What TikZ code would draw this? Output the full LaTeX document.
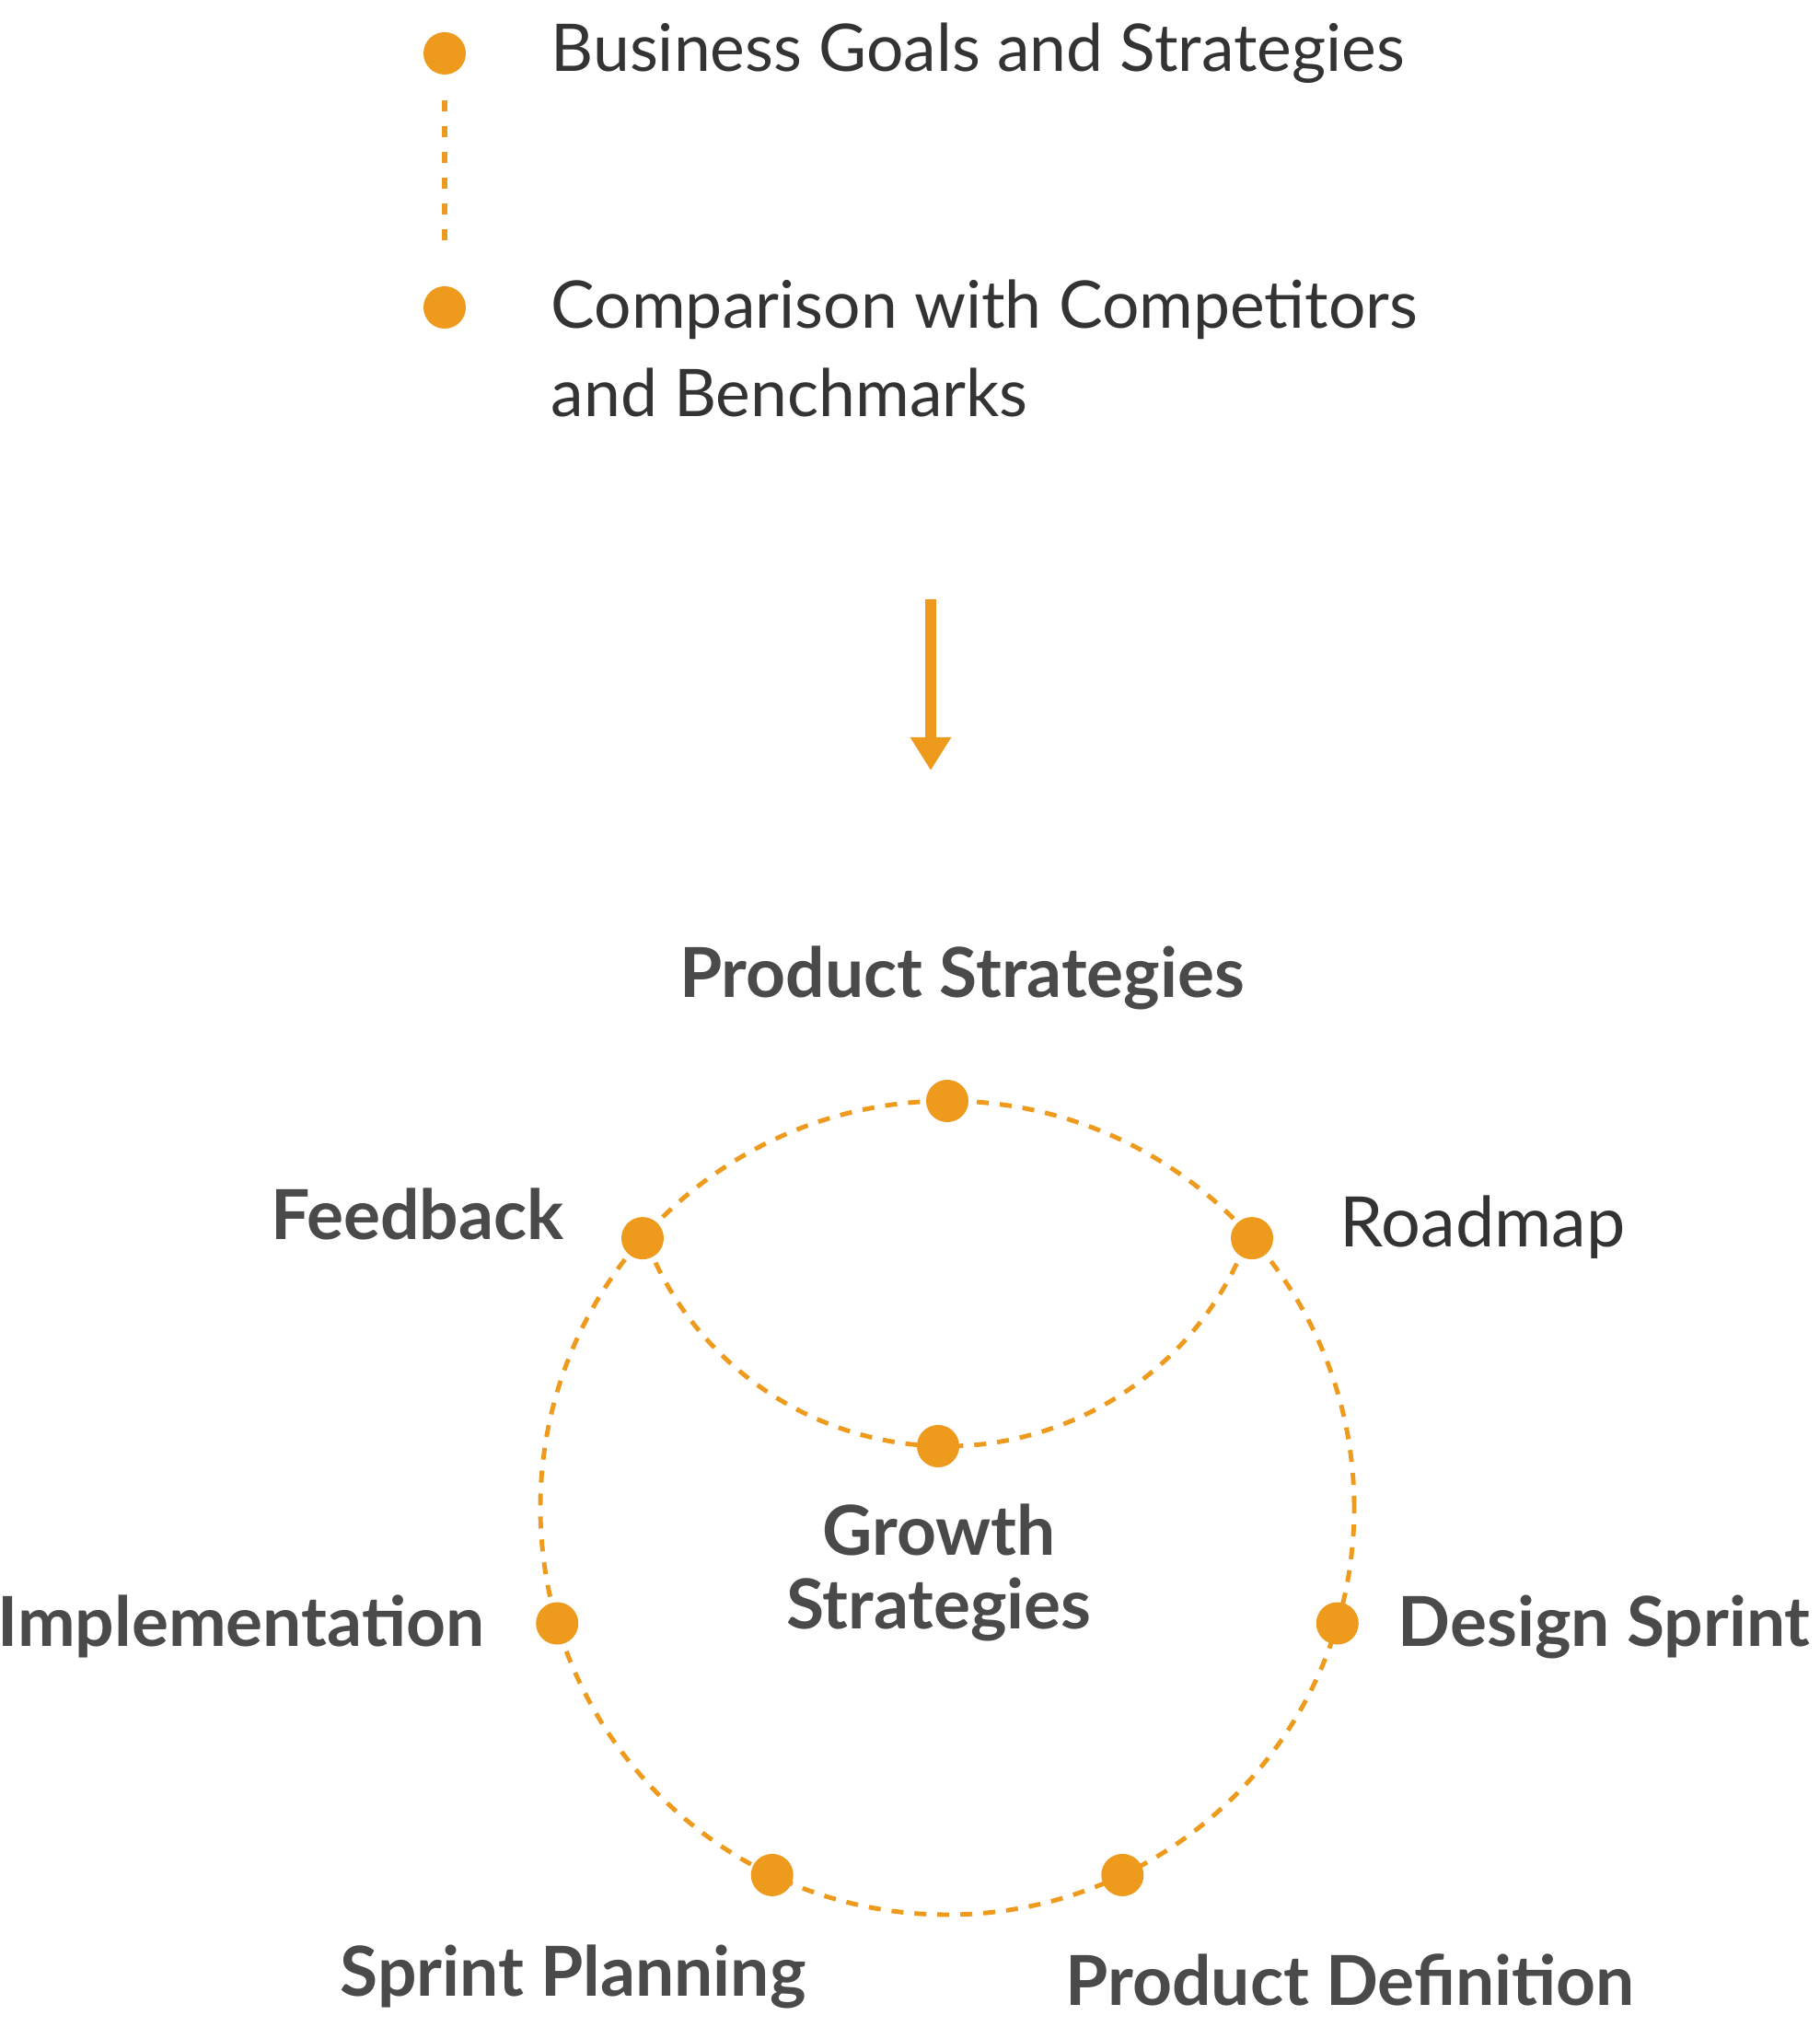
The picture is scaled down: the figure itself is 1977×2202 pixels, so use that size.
\documentclass[tikz,border=0pt]{standalone}
\usepackage{fontspec}
\setmainfont{Lato}
\usetikzlibrary{arrows.meta, calc}
\definecolor{accent}{HTML}{EE9A1D}
\definecolor{textdark}{HTML}{333333}
\definecolor{textgray}{HTML}{4A4A4A}

\begin{document}
\begin{tikzpicture}[x=0.01cm, y=0.01cm,
    dot/.style={circle, fill=accent, inner sep=0pt, minimum size=0.46cm},
    ring/.style={draw=accent, line width=1.4pt, dash pattern=on 3.7pt off 3.4pt},
    toptext/.style={font=\fontsize{20.3pt}{27.3pt}\selectfont, text=textdark, inner sep=0pt},
    lbl/.style={font=\bfseries\fontsize{21.3pt}{22.8pt}\selectfont, text=textgray, inner sep=0pt}]
    \useasboundingbox (0,0) rectangle (1977,2202);
    %legenda in alto
    \node[dot] (goals) at (483,2144) {};
    \node[dot] (bench) at (483,1868) {};
    \draw[accent, line width=1.6pt, dash pattern=on 3.4pt off 4.6pt, shorten <=0.27cm, shorten >=0.34cm] (goals) -- (bench);
    \node[toptext, anchor=base west] (goalstxt) at (598,2124) {Business Goals and Strategies};
    \node[toptext, anchor=base west, align=left] (benchtxt) at (598,1749) {Comparison with Competitors\\and Benchmarks};
    %freccia
    \coordinate (arrtop) at (1011,1551);
    \coordinate (arrtip) at (1011,1365);
    \draw[accent, line width=3.4pt, -{Triangle[width=0.42cm, length=0.36cm]}] (arrtop) -- (arrtip);
    %ciclo
    \coordinate (ctr) at (1029,564);
    \draw[ring] (ctr) circle[radius=442];
    \draw[ring] ($(1028,981)+(-158.6:350)$) arc[start angle=-158.6, end angle=-21.4, radius=350];
    \foreach \ang/\nm in {90/prod, 41.5/road, -16.5/design, -64.5/def, -115.5/sprint, 196.5/impl, 138.5/feed}
        \node[dot] (\nm) at ($(ctr)+(\ang:442)$) {};
    \node[dot] (growth) at (1019,631) {};
    %etichette
    \node[lbl, anchor=base] (prodtxt) at (1045,1118) {Product Strategies};
    \node[lbl, anchor=base east] (feedtxt) at (613,855) {Feedback};
    \node[toptext, font=\fontsize{21.5pt}{24pt}\selectfont, anchor=base west] (roadtxt) at (1455,847) {Roadmap};
    \node[lbl, anchor=base east] (impltxt) at (527,413) {Implementation};
    \node[lbl, anchor=base west] (designtxt) at (1518,413) {Design Sprint};
    \node[lbl, anchor=base, align=center] (growthtxt) at (1020,432) {Growth\\Strategies};
    \node[lbl, anchor=base west] (sprinttxt) at (369,34) {Sprint Planning};
    \node[lbl, anchor=base west] (deftxt) at (1157,24) {Product Definition};
\end{tikzpicture}
\end{document}
